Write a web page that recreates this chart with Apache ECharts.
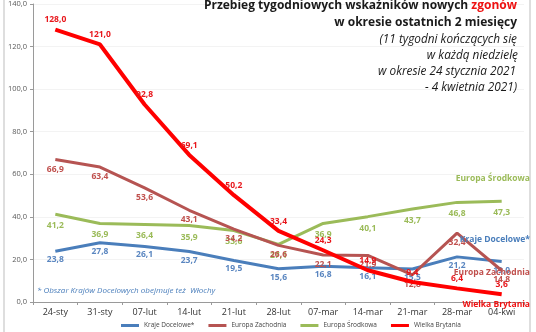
<!DOCTYPE html>
<html><head><meta charset="utf-8">
<script src="https://cdn.jsdelivr.net/npm/echarts@6/dist/echarts.min.js"></script>
<style>html,body{margin:0;padding:0;background:#fff}#c{width:536px;height:332px}</style>
</head><body><div id="c"></div>
<script>
const categories = ['24-sty','31-sty','07-lut','14-lut','21-lut','28-lut','07-mar','14-mar','21-mar','28-mar','04-kwi'];
const krajeDocelowe = [23.8, 27.8, 26.1, 23.7, 19.5, 15.6, 16.8, 16.1, 15.5, 21.2, 19.0];
const europaZachodnia = [66.9, 63.4, 53.6, 43.1, 34.2, 26.6, 22.1, 21.9, 12.8, 32.4, 14.8];
const europaSrodkowa = [41.2, 36.9, 36.4, 35.9, 33.6, 27.1, 36.9, 40.1, 43.7, 46.8, 47.3];
const wielkaBrytania = [128.0, 121.0, 92.8, 69.1, 50.2, 33.4, 24.3, 14.9, 9.4, 6.4, 3.6];
const yTicks = [0, 20, 40, 60, 80, 100, 120, 140];

const fmt = v => v.toFixed(1).replace('.', ',');
const FONT = 'Open Sans';
const chart = echarts.init(document.getElementById('c'));

function mk(name, data, color, width, labelColor, pos, dist, z) {
  return {
    name, type: 'line', data, symbol: 'circle', symbolSize: 0.1, showSymbol: true, z,
    lineStyle: { color, width },
    itemStyle: { color },
    label: { show: true, position: pos, distance: dist, formatter: p => fmt(p.value),
      color: labelColor, fontSize: 8.5, fontWeight: 'bold', fontFamily: FONT }
  };
}

chart.setOption({
  animation: false,
  textStyle: { fontFamily: FONT },
  grid: { left: 33, right: 12, top: 3, bottom: 30 },
  xAxis: {
    type: 'category', data: categories, boundaryGap: true,
    axisLine: { lineStyle: { color: '#9a9a9a' } },
    axisTick: { show: true, length: 3, lineStyle: { color: '#9a9a9a' } },
    axisLabel: { color: '#333', fontSize: 9, margin: 6, fontFamily: FONT }
  },
  yAxis: {
    type: 'value', min: 0, max: 140, interval: 20,
    axisLine: { show: true, lineStyle: { color: '#9a9a9a' } },
    axisTick: { show: true, length: 3, lineStyle: { color: '#9a9a9a' } },
    axisLabel: { color: '#595959', fontSize: 7.5, margin: 6, fontFamily: FONT,
      formatter: v => yTicks.includes(v) ? fmt(v) : '' },
    splitLine: { lineStyle: { color: '#f3f3f3' } }
  },
  legend: {
    bottom: -2, left: 116, itemWidth: 18, itemHeight: 3, itemGap: 14,
    icon: 'rect', textStyle: { fontSize: 6.5, color: '#444', fontFamily: FONT },
    data: ['Kraje Docelowe*', 'Europa Zachodnia', 'Europa Środkowa', 'Wielka Brytania']
  },
  series: [
    mk('Kraje Docelowe*', krajeDocelowe, '#4a7ebb', 3, '#5a86c0', 'bottom', 4, 2),
    mk('Europa Zachodnia', europaZachodnia, '#b65452', 3, '#c0504d', 'bottom', 5, 3),
    mk('Europa Środkowa', europaSrodkowa, '#9bbb59', 3, '#9bbb59', 'bottom', 7, 2),
    mk('Wielka Brytania', wielkaBrytania, '#ff0000', 4, '#e8161b', 'top', 5, 4)
  ],
  graphic: [
    { type: 'rect', z: 100, shape: { x: 4, y: -2, width: 526, height: 340 }, style: { fill: 'none', stroke: '#bdbdbd', lineWidth: 1 }, silent: true },
    { type: 'text', z: 100, right: 19, top: 0, style: { rich: {
        b: { fontSize: 12, fontWeight: 'bold', fill: '#1a1a1a', fontFamily: FONT },
        r: { fontSize: 12, fontWeight: 'bold', fill: '#ee1111', fontFamily: FONT } },
      text: '{b|Przebieg tygodniowych wskaźników nowych }{r|zgonów}' } },
    { type: 'text', z: 100, right: 19, top: 17, style: { text: 'w okresie ostatnich 2 miesięcy', fontSize: 12, fontWeight: 'bold', fill: '#1a1a1a', fontFamily: FONT } },
    { type: 'text', z: 100, right: 19, top: 34, style: { text: '(11 tygodni kończących się', fontSize: 11.8, fontStyle: 'italic', fill: '#1a1a1a', fontFamily: FONT } },
    { type: 'text', z: 100, right: 18, top: 50, style: { text: 'w każdą niedzielę', fontSize: 11.8, fontStyle: 'italic', fill: '#1a1a1a', fontFamily: FONT } },
    { type: 'text', z: 100, right: 20, top: 66, style: { text: 'w okresie 24 stycznia 2021', fontSize: 11.8, fontStyle: 'italic', fill: '#1a1a1a', fontFamily: FONT } },
    { type: 'text', z: 100, right: 19, top: 82, style: { text: '- 4 kwietnia 2021)', fontSize: 11.8, fontStyle: 'italic', fill: '#1a1a1a', fontFamily: FONT } },
    { type: 'text', z: 100, left: 37, top: 287, style: { text: '* Obszar Krajów Docelowych obejmuje też  Włochy', fontSize: 8, fontStyle: 'italic', fill: '#4a7ebb', fontFamily: FONT } },
    { type: 'text', z: 100, right: 6, top: 174, style: { text: 'Europa Środkowa', fontSize: 8.5, fontWeight: 'bold', fill: '#9bbb59', fontFamily: FONT } },
    { type: 'text', z: 100, right: 6, top: 235, style: { text: 'Kraje Docelowe*', fontSize: 8.5, fontWeight: 'bold', fill: '#4a7ebb', fontFamily: FONT } },
    { type: 'text', z: 100, right: 6, top: 268, style: { text: 'Europa Zachodnia', fontSize: 8.5, fontWeight: 'bold', fill: '#c0504d', fontFamily: FONT } },
    { type: 'text', z: 100, right: 6, top: 300, style: { text: 'Wielka Brytania', fontSize: 8.5, fontWeight: 'bold', fill: '#ee1111', fontFamily: FONT } }
  ]
});
</script>
</body></html>
